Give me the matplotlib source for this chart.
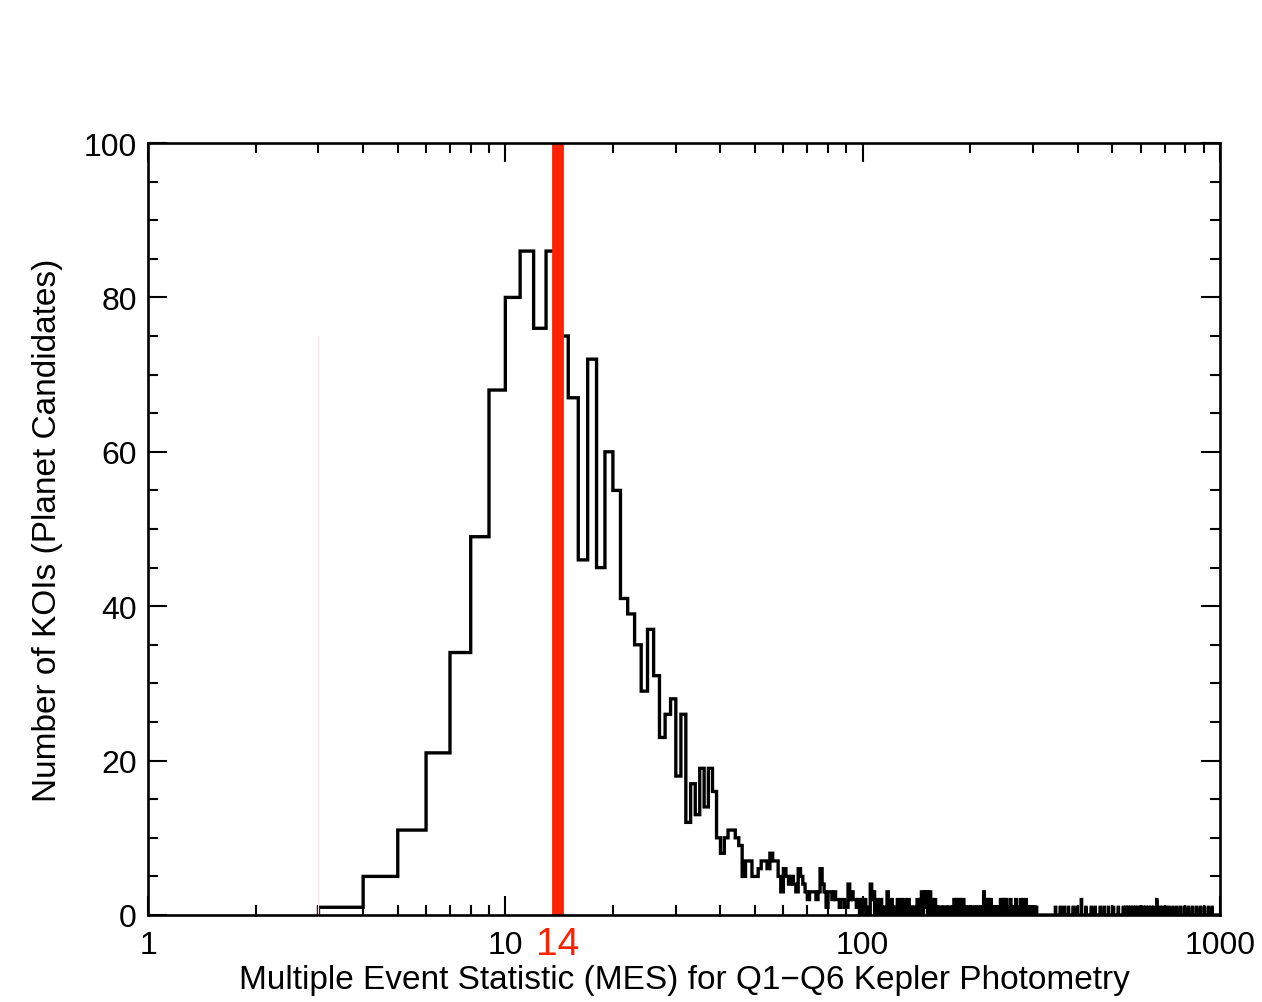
import numpy as np
import matplotlib
matplotlib.use('Agg')
import matplotlib.pyplot as plt
from matplotlib.ticker import FixedLocator, NullFormatter, LogLocator

plt.rcParams['font.family'] = ['Liberation Sans', 'DejaVu Sans']

# KOI counts per unit MES bin, bins 3-4 ... 242-243
core_counts = [
    1, 5, 11, 21, 34, 49, 68, 80, 86, 76,     # 3-12
    86, 75, 67, 46, 72, 45, 60, 55, 41, 39,   # 13-22
    35, 29, 37, 31, 23, 26, 28, 18, 26, 12,   # 23-32
    17, 13, 19, 14, 19, 16, 10, 8, 10, 11,    # 33-42
    11, 10, 9, 5, 7, 7, 5, 5, 6, 7,           # 43-52
    7, 6, 8, 7, 7, 5, 3, 6, 5, 4,             # 53-62
    5, 4, 3, 6, 5, 4, 3, 2, 3, 3,             # 63-72
    3, 2, 3, 6, 4, 3, 1, 3, 3, 2,             # 73-82
    3, 2, 2, 1, 2, 2, 1, 1, 4, 2,             # 83-92
    3, 2, 2, 1, 2, 0, 2,                      # 93-99
    1, 2, 0, 1, 0, 4, 2, 3, 0, 2,             # 100-109
    1, 0, 2, 1, 0, 1, 0, 3, 1, 0,             # 110-119
    2, 1, 0, 1, 0, 2, 1, 0, 2, 1,             # 120-129
    0, 2, 1, 0, 2, 1, 0, 1, 0, 1,             # 130-139
    1, 0, 2, 1, 0, 2, 3, 0, 2, 3,             # 140-149
    1, 3, 0, 2, 3, 0, 2, 1, 0, 2,             # 150-159
    1, 0, 1, 0, 1, 1, 0, 1, 0, 1,             # 160-169
    1, 0, 1, 0, 1, 1, 0, 1, 0, 1,             # 170-179
    2, 0, 2, 1, 0, 2, 1, 0, 2, 1,             # 180-189
    0, 2, 1, 0, 1, 0, 1, 0, 1, 1,             # 190-199
    0, 1, 0, 1, 1, 0, 1, 1, 0, 1,             # 200-209
    0, 1, 1, 0, 1, 0, 1, 0, 3, 1,             # 210-219
    2, 0, 2, 1, 0, 2, 1, 0, 2, 1,             # 220-229
    1, 0, 1, 0, 1, 0, 1, 0, 1, 1,             # 230-239
    0, 1, 0,                                  # 240-242
]
core_start = 3

# sparse far tail (MES > 242): left bin edge and count, empty bins omitted
tail_bins = [
    243, 244, 246, 247, 249, 250, 252, 254, 255, 257, 259, 261, 262, 264,
    266, 268, 270, 272, 274, 276, 278, 280, 282, 284, 286, 288, 290, 292,
    294, 297, 300, 303, 306,
    346, 357, 366, 376, 388, 398, 409, 421, 436, 447, 462, 474, 487, 503,
    519, 536, 545, 553, 562, 571, 580, 590, 600, 610, 620, 631, 642, 653,
    665, 677, 689, 705, 720, 738, 756, 775, 795, 815, 836, 858, 880, 903,
    927, 950,
]
tail_counts = [
    2, 1, 2, 1, 2, 1, 2, 1, 1, 1, 2, 1, 1, 1,
    1, 2, 1, 1, 1, 2, 1, 2, 1, 1, 2, 1, 1, 1,
    1, 1, 1, 1, 1,
    1, 1, 1, 1, 1, 1, 2, 1, 1, 1, 1, 1, 1, 1,
    1, 1, 1, 1, 1, 1, 1, 1, 1, 1, 1, 1, 1, 1,
    2, 1, 1, 1, 1, 1, 1, 1, 1, 1, 1, 1, 1, 1,
    1, 1,
]

mes_cut = 14
detect_min, detect_line_top = 3, 75

edges = np.arange(core_start, 1001)
counts = np.zeros(len(edges) - 1)
counts[:len(core_counts)] = core_counts
for b, n in zip(tail_bins, tail_counts):
    counts[b - core_start] = n

fig = plt.figure(figsize=(12.62, 10.03), dpi=100)
ax = fig.add_axes([148 / 1262, 1 - 916 / 1003, 1072 / 1262, 772 / 1003])

ax.plot([detect_min, detect_min], [0, detect_line_top], color='#ffe2e8', lw=0.9)
ax.stairs(counts, edges, color='black', lw=2.4, baseline=0)
ax.plot([mes_cut, mes_cut], [0, 100], color='#ff2200', lw=8.5, solid_capstyle='butt')

ax.set_xscale('log')
ax.set_xlim(1, 1000)
ax.set_ylim(0, 100)
ax.xaxis.set_major_locator(FixedLocator([1, 10, 100, 1000]))
ax.set_xticklabels(['1', '10', '100', '1000'])
ax.xaxis.set_minor_locator(LogLocator(base=10, subs=np.arange(2, 10)))
ax.xaxis.set_minor_formatter(NullFormatter())
ax.yaxis.set_major_locator(FixedLocator([0, 20, 40, 60, 80, 100]))
ax.yaxis.set_minor_locator(FixedLocator(np.arange(0, 101, 5)))

for s in ax.spines.values():
    s.set_linewidth(1.9)
ax.tick_params(which='both', direction='in', top=True, right=True, width=1.5,
               labelsize=23, colors='black')
ax.tick_params(which='major', length=14)
ax.tick_params(which='minor', length=7)
ax.tick_params(axis='x', pad=11)
ax.tick_params(axis='y', pad=8)

ax.annotate(str(mes_cut), xy=(mes_cut, -0.038), xycoords=('data', 'axes fraction'),
            ha='center', va='center', fontsize=28, color='#ff2200')

ax.set_xlabel('Multiple Event Statistic (MES) for Q1\u2212Q6 Kepler Photometry',
              fontsize=24, labelpad=3)
ax.set_ylabel('Number of KOIs (Planet Candidates)', fontsize=24, labelpad=15)

fig.savefig('out.png', dpi=100)
